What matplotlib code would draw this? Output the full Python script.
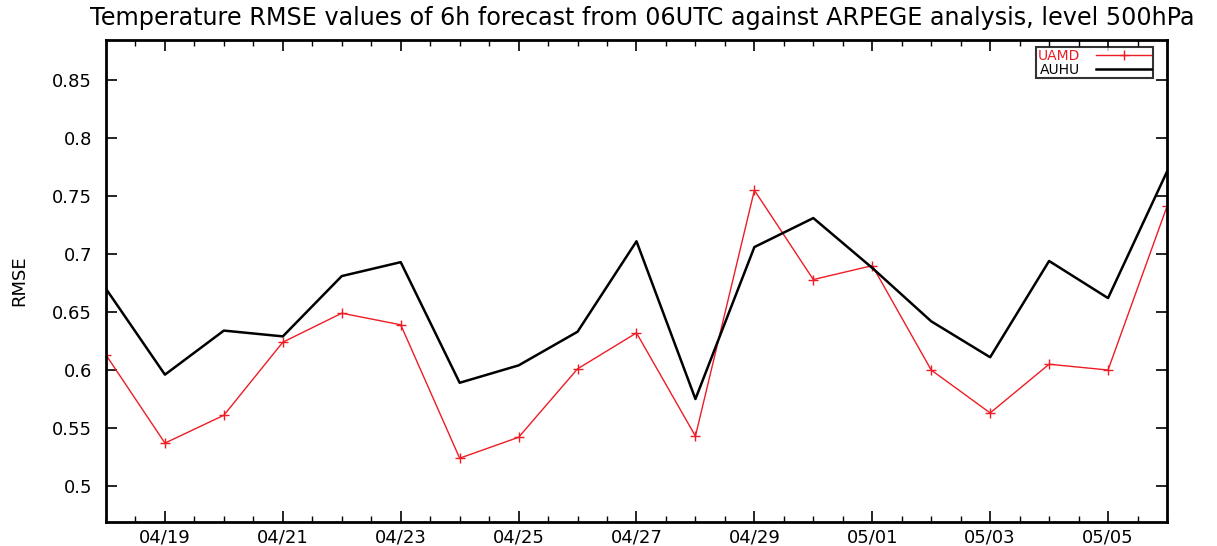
import matplotlib
matplotlib.use("Agg")
import matplotlib.pyplot as plt
from matplotlib.ticker import MultipleLocator, FixedLocator

dates = ["04/18", "04/19", "04/20", "04/21", "04/22", "04/23", "04/24", "04/25",
         "04/26", "04/27", "04/28", "04/29", "04/30", "05/01", "05/02", "05/03",
         "05/04", "05/05", "05/06"]
uamd = [0.613, 0.537, 0.561, 0.624, 0.649, 0.639, 0.524, 0.542, 0.601, 0.632,
        0.543, 0.755, 0.678, 0.690, 0.600, 0.563, 0.605, 0.600, 0.741]
auhu = [0.670, 0.596, 0.634, 0.629, 0.681, 0.693, 0.589, 0.604, 0.633, 0.711,
        0.575, 0.706, 0.731, 0.688, 0.642, 0.611, 0.694, 0.662, 0.771]
major_labels = ["04/19", "04/21", "04/23", "04/25", "04/27", "04/29", "05/01", "05/03", "05/05"]
y_ticks = [0.5, 0.55, 0.6, 0.65, 0.7, 0.75, 0.8, 0.85]
y_labels = ["0.5", "0.55", "0.6", "0.65", "0.7", "0.75", "0.8", "0.85"]

RED = "#ee1c24"
FONT = "DejaVu Sans"

fig = plt.figure(figsize=(12.17, 5.46), dpi=100)
ax = fig.add_axes([0.0871, 0.044, 0.8718, 0.8827])

x = list(range(len(dates)))
ax.plot(x, uamd, color=RED, lw=1.0, marker="+", ms=7, mew=1.0, label="UAMD")
ax.plot(x, auhu, color="black", lw=1.8, label="AUHU")

ax.set_xlim(0, len(dates) - 1)
ax.set_ylim(0.469, 0.8845)

major_pos = [dates.index(d) for d in major_labels]
ax.xaxis.set_major_locator(FixedLocator(major_pos))
ax.set_xticklabels(major_labels, fontfamily=FONT, fontsize=13)
ax.xaxis.set_minor_locator(MultipleLocator(0.5))
ax.set_yticks(y_ticks)
ax.set_yticklabels(y_labels, fontfamily=FONT, fontsize=13)

ax.tick_params(axis="both", which="major", direction="in", length=8, width=1.2,
               top=True, right=True)
ax.tick_params(axis="x", which="minor", direction="in", length=4, width=1.0,
               top=True, bottom=True)
ax.tick_params(axis="x", which="major", pad=5)
ax.tick_params(axis="y", which="major", pad=10)

for s in ax.spines.values():
    s.set_linewidth(2.0)

ax.set_ylabel("RMSE", fontfamily=FONT, fontsize=13)
ax.yaxis.set_label_coords(-0.0735, 0.5)

fig.text(0.5275, 0.967, "Temperature RMSE values of 6h forecast from 06UTC against ARPEGE analysis, level 500hPa",
         ha="center", va="center", fontfamily=FONT, fontsize=17.2)

leg = ax.legend(loc="upper right", bbox_to_anchor=(0.9868, 0.9855), borderaxespad=0,
                markerfirst=False, frameon=True, fancybox=False, borderpad=0.12,
                handlelength=4.0, handletextpad=1.1, labelspacing=0.0,
                prop={"family": FONT, "size": 10})
leg.get_frame().set_edgecolor("black")
leg.get_frame().set_linewidth(1.5)
leg.get_texts()[0].set_color(RED)

fig.savefig("out.png", dpi=100)
